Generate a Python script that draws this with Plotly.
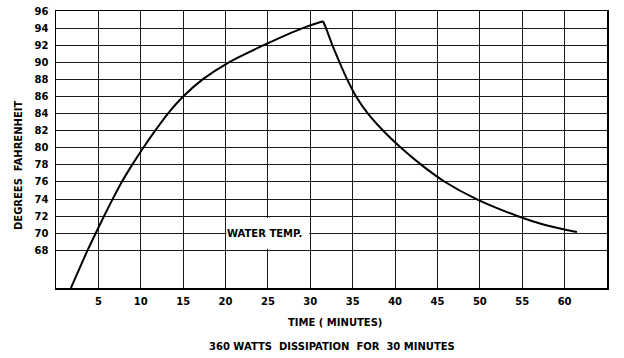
import plotly.graph_objects as go

# Heating phase (minutes, °F)
rise_t = [1.76, 3.72, 4.68, 5.66, 6.68, 7.76, 8.98, 10.3, 11.7, 13.2, 15.0, 17.3, 20.4, 24.5, 29.1, 31.5]
rise_temp = [63.6, 68, 70, 72, 74, 76, 78, 80, 82, 84, 86, 88, 90, 92, 94, 94.8]

# Cooling phase
fall_t = [31.5, 31.85, 32.6, 33.45, 34.35, 35.4, 36.8, 38.6, 40.7, 43.1, 45.9, 49.6, 54.5, 57.6, 60.0, 61.45]
fall_temp = [94.8, 94, 92, 90, 88, 86, 84, 82, 80, 78, 76, 74, 72, 71.0, 70.45, 70.15]

x_ticks = [5, 10, 15, 20, 25, 30, 35, 40, 45, 50, 55, 60]
y_ticks = [68, 70, 72, 74, 76, 78, 80, 82, 84, 86, 88, 90, 92, 94, 96]

label_text = "WATER TEMP."
y_title = "DEGREES  FAHRENHEIT"
x_title = "TIME ( MINUTES)"
subtitle = "360 WATTS  DISSIPATION  FOR  30 MINUTES"

FONT = "DejaVu Sans"
W, H = 624, 358
L, R, T, B = 56, 17, 11, 70


def px_to_paper(px, py):
    return (px - L) / (W - L - R), 1 - (py - T) / (H - T - B)


def bold(size):
    return dict(family=FONT, size=size, color="black", weight="bold")


fig = go.Figure()
fig.add_trace(go.Scatter(x=rise_t, y=rise_temp, mode="lines",
                         line=dict(color="black", width=2, shape="spline", smoothing=0.7),
                         hoverinfo="skip", showlegend=False))
fig.add_trace(go.Scatter(x=fall_t, y=fall_temp, mode="lines",
                         line=dict(color="black", width=2, shape="spline", smoothing=0.7),
                         hoverinfo="skip", showlegend=False))

# white box behind the curve label, covering gridlines
fig.add_shape(type="rect", xref="x", yref="y", x0=20.12, x1=29.88, y0=68.2, y1=71.8,
              fillcolor="white", line=dict(width=0), layer="between")
fig.add_annotation(x=24.6, y=70, xref="x", yref="y", text=label_text, showarrow=False,
                   font=bold(10))

for text, (px, py), angle in [(y_title, (18, 166), -90),
                              (x_title, (335, 322), 0),
                              (subtitle, (332, 346), 0)]:
    ax, ay = px_to_paper(px, py)
    fig.add_annotation(x=ax, y=ay, xref="paper", yref="paper", text=text, showarrow=False,
                       textangle=angle, xanchor="center", yanchor="middle", font=bold(10))

axis_common = dict(showgrid=True, gridcolor="#1a1a1a", gridwidth=1,
                   showline=True, mirror=True, linecolor="black", linewidth=1.5,
                   ticks="", zeroline=False, automargin=False, tickfont=bold(10))

fig.update_layout(
    width=W, height=H,
    margin=dict(l=L, r=R, t=T, b=B, autoexpand=False),
    paper_bgcolor="white", plot_bgcolor="white",
    hovermode=False,
    xaxis=dict(range=[0, 65], tickvals=x_ticks, ticktext=[str(v) for v in x_ticks],
               ticklabelstandoff=3, **axis_common),
    yaxis=dict(range=[63.6, 96], tickvals=y_ticks, ticktext=[str(v) for v in y_ticks],
               ticklabelstandoff=4, **axis_common),
)

fig.write_html("out.html", config={"displayModeBar": False, "staticPlot": True},
               post_script="document.body.style.margin='0';document.body.style.overflow='hidden';")
